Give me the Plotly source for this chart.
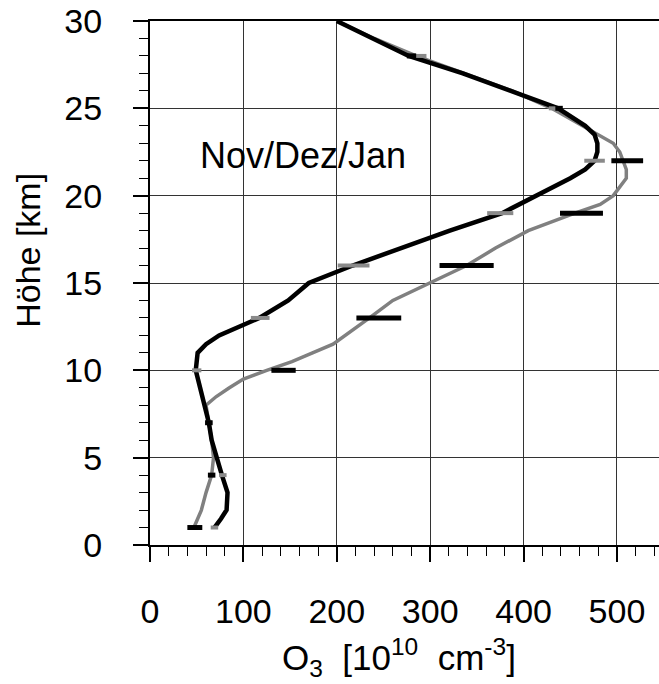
import plotly.graph_objects as go

# Black curve (altitude km, O3 1e10 cm^-3)
black_alt = [30, 29, 28, 27, 26, 25, 24, 23.5, 23, 22.5, 22, 21.5, 21, 20, 19, 18, 17, 16, 15, 14, 13,
             12.5, 12, 11.5, 11, 10, 9, 8, 7, 6, 5, 4, 3, 2, 1.5, 1]
black_o3 = [200, 238, 277, 335, 386, 437, 466, 476, 479, 479, 476, 466, 450, 414, 377, 321, 268, 217, 170, 148, 117,
            95, 74, 60, 51, 49, 54, 58, 63, 66, 71, 77, 83, 82, 76, 69]

# Grey curve
gray_alt = [30, 29, 28, 27, 26, 25, 24, 23, 22.5, 22, 21.5, 21, 20.5, 20, 19.5, 19, 18, 17, 16, 15, 14, 13,
            12, 11.5, 11, 10.5, 10, 9.5, 9, 8.5, 8, 7, 6, 5, 4, 3, 2, 1]
gray_o3 = [200, 240, 285, 337, 388, 430, 463, 496, 503, 507, 510, 510, 503, 496, 482, 455, 405, 370, 339, 299, 260, 235,
           210, 196, 174, 152, 125, 100, 85, 71, 60, 63, 66, 68, 66, 60, 55, 47]

# Grey horizontal bars (on the black profile)
gray_bar_alt = [28, 25, 22, 19, 16, 13, 10, 7, 4, 1]
gray_bar_o3 = [290, 432, 476, 375, 218, 118, 50, 63, 78, 69]
gray_bar_err = [6, 5, 11, 14, 17, 10, 5, 4, 4, 4]

# Black horizontal bars
black_bar_alt = [28, 25, 22, 19, 16, 13, 10, 7, 4, 1]
black_bar_o3 = [280, 438, 511, 462, 339, 245, 143, 63, 66, 48]
black_bar_err = [5, 4, 17, 23, 29, 24, 13, 4, 4, 8]

x_ticks = [0, 100, 200, 300, 400, 500]
y_ticks = [0, 5, 10, 15, 20, 25, 30]

FONT = "Liberation Sans, Arial, Helvetica, sans-serif"

fig = go.Figure()
fig.add_trace(go.Scatter(x=gray_o3, y=gray_alt, mode="lines",
                         line=dict(color="#808080", width=3.5), hoverinfo="skip"))
fig.add_trace(go.Scatter(x=black_o3, y=black_alt, mode="lines",
                         line=dict(color="black", width=4.5), hoverinfo="skip"))
fig.add_trace(go.Scatter(x=gray_bar_o3, y=gray_bar_alt, mode="markers",
                         marker=dict(size=1, color="rgba(0,0,0,0)"),
                         error_x=dict(type="data", array=gray_bar_err, symmetric=True,
                                      thickness=4, width=0, color="#8a8a8a"),
                         hoverinfo="skip"))
fig.add_trace(go.Scatter(x=black_bar_o3, y=black_bar_alt, mode="markers",
                         marker=dict(size=1, color="rgba(0,0,0,0)"),
                         error_x=dict(type="data", array=black_bar_err, symmetric=True,
                                      thickness=5, width=0, color="black"),
                         hoverinfo="skip"))

fig.update_layout(
    width=659, height=684,
    margin=dict(l=150, r=0, t=21, b=139),
    plot_bgcolor="white", paper_bgcolor="white",
    showlegend=False,
    font=dict(family=FONT, size=34, color="black"),
)
fig.update_xaxes(
    range=[0, 545], tickvals=x_ticks, ticktext=[str(v) for v in x_ticks],
    ticks="outside", ticklen=15, tickwidth=1.5, tickcolor="black",
    showgrid=True, gridcolor="#333333", gridwidth=1,
    showline=True, linecolor="black", linewidth=2, mirror=True,
    zeroline=False, ticklabelstandoff=20,
    minor=dict(dtick=20, tick0=0, ticks="outside", ticklen=9, tickwidth=1.2,
               tickcolor="black", showgrid=False),
)
fig.update_yaxes(
    range=[0, 30], tickvals=y_ticks, ticktext=[str(v) for v in y_ticks],
    ticks="outside", ticklen=15, tickwidth=1.5, tickcolor="black",
    showgrid=True, gridcolor="#333333", gridwidth=1,
    showline=True, linecolor="black", linewidth=2,
    zeroline=False, ticklabelstandoff=24,
    minor=dict(dtick=1, tick0=0, ticks="outside", ticklen=9, tickwidth=1.2,
               tickcolor="black", showgrid=False),
)

fig.add_annotation(text="Höhe [km]", xref="paper", yref="paper", x=-0.24, y=0.563,
                   textangle=-90, showarrow=False, font=dict(size=34, family=FONT),
                   xanchor="center", yanchor="middle")
fig.add_annotation(text="O<sub>3</sub>  [10<sup>10</sup>  cm<sup>-3</sup>]", xref="paper", yref="paper",
                   x=0.49, y=-0.215, showarrow=False, font=dict(size=35, family=FONT),
                   xanchor="center", yanchor="middle")
fig.add_annotation(text="Nov/Dez/Jan", xref="paper", yref="paper", x=0.094, y=0.744,
                   showarrow=False, font=dict(size=36, family=FONT),
                   xanchor="left", yanchor="middle")

fig.write_html("out.html")
